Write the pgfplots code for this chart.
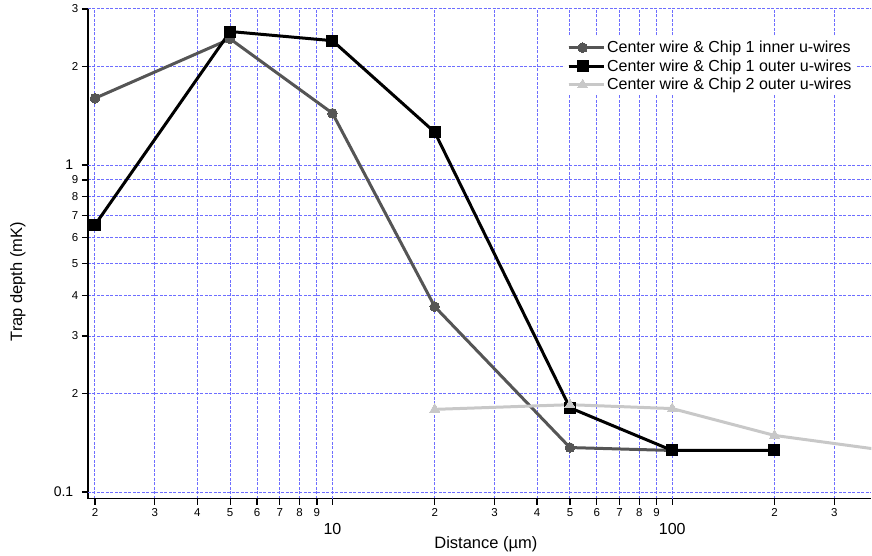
\documentclass[border=0pt]{standalone}
\usepackage{fontspec}
\setmainfont{Liberation Sans}
\usepackage{pgfplots}
\pgfplotsset{compat=1.18}

\definecolor{gridblue}{RGB}{110,110,255}
\definecolor{innerwires}{RGB}{85,85,85}
\definecolor{chiptwo}{RGB}{200,200,200}

\begin{document}
\begin{tikzpicture}
\begin{loglogaxis}[
  scale only axis,
  width=784pt, height=490pt,
  xmin=1.907, xmax=385.5,
  ymin=0.0955, ymax=3,
  axis x line=bottom, axis y line=left,
  axis line style={-, line width=1.4pt, black},
  tick align=outside,
  major tick length=6pt,
  every tick/.style={black, line width=1.2pt},
  xtick={2,3,4,5,6,7,8,9,20,30,40,50,60,70,80,90,200,300},
  xticklabels={2,3,4,5,6,7,8,9,2,3,4,5,6,7,8,9,2,3},
  ytick={0.2,0.3,0.4,0.5,0.6,0.7,0.8,0.9,2,3},
  yticklabels={2,3,4,5,6,7,8,9,2,3},
  extra x ticks={10,100},
  extra x tick labels={10,100},
  extra y ticks={0.1,1},
  extra y tick labels={0.1,1},
  extra x tick style={
    tick label style={font=\fontsize{16}{16}\selectfont, yshift=-15pt}},
  extra y tick style={
    tick label style={font=\fontsize{14}{14}\selectfont, xshift=-5pt}},
  tick label style={font=\fontsize{11.5}{12}\selectfont},
  xticklabel style={inner sep=2pt, yshift=-2pt},
  yticklabel style={inner sep=1.5pt, xshift=-2pt},
  xmajorgrids, ymajorgrids,
  major grid style={gridblue, dash pattern=on 3pt off 1.5pt, line width=1pt},
  xlabel={Distance (µm)},
  ylabel={Trap depth (mK)},
  label style={font=\fontsize{16.5}{17}\selectfont},
  xlabel style={at={(axis description cs:0.508,-0.094)}, anchor=center},
  ylabel style={at={(axis description cs:-0.0893,0.443)}, anchor=center},
  legend style={at={(0.609,0.943)}, anchor=north west, draw=none, fill=white,
    font=\fontsize{16}{16}\selectfont, row sep=1.5pt, inner sep=2pt},
  legend cell align=left,
  legend image code/.code={
    \draw[mark repeat=2, mark phase=2] plot coordinates {(0pt,0pt) (14pt,0pt) (28pt,0pt)};
    \path (0pt,0pt) -- (35pt,0pt);
  },
]
% Center wire with the inner u-wires of chip 1
\addplot[innerwires, line width=3pt, mark=*, mark size=4.8pt,
  mark options={solid, fill=innerwires, draw=innerwires, line width=0pt}]
  coordinates {(2,1.60) (5,2.43) (10,1.44) (20,0.369) (50,0.1368) (100,0.134)};
\addlegendentry{Center wire \& Chip 1 inner u-wires}

% Center wire with the outer u-wires of chip 1
\addplot[black, line width=3pt, mark=square*, mark size=5.5pt,
  mark options={solid, fill=black, draw=black, line width=0pt}]
  coordinates {(2,0.656) (5,2.56) (10,2.40) (20,1.26) (50,0.181) (100,0.134) (200,0.134)};
\addlegendentry{Center wire \& Chip 1 outer u-wires}

% Center wire with the outer u-wires of chip 2
\addplot[chiptwo, line width=3pt, mark=triangle*, mark size=5.8pt,
  mark options={solid, fill=chiptwo, draw=chiptwo, line width=0pt}]
  coordinates {(20,0.179) (50,0.185) (100,0.180) (200,0.149) (500,0.131)};
\addlegendentry{Center wire \& Chip 2 outer u-wires}
\end{loglogaxis}
\path (current axis.south west) ++(-88pt,-57pt) coordinate (bbsw);
\path (current axis.north east) ++(0pt,9pt) coordinate (bbne);
\path (bbsw) rectangle (bbne);
\end{tikzpicture}
\end{document}
